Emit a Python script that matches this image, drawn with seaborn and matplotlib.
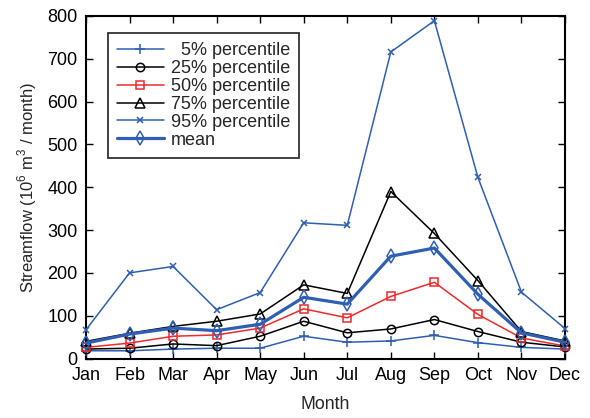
import matplotlib
matplotlib.use("Agg")
import matplotlib.pyplot as plt
import seaborn as sns
import pandas as pd

months = ["Jan", "Feb", "Mar", "Apr", "May", "Jun",
          "Jul", "Aug", "Sep", "Oct", "Nov", "Dec"]

p05 = [18, 18, 22, 24, 24, 52, 38, 41, 54, 37, 26, 22]
p25 = [22, 24, 34, 30, 52, 87, 60, 69, 91, 63, 38, 27]
p50 = [26, 36, 52, 55, 71, 116, 95, 145, 178, 103, 48, 29]
p75 = [40, 59, 75, 87, 104, 172, 152, 390, 292, 182, 63, 41]
p95 = [67, 200, 215, 114, 154, 317, 311, 716, 789, 423, 155, 70]
mean_flow = [36, 57, 71, 65, 80, 143, 127, 239, 258, 150, 60, 38]

series_labels = ["  5% percentile", "25% percentile", "50% percentile",
                 "75% percentile", "95% percentile", "mean"]
series_values = [p05, p25, p50, p75, p95, mean_flow]

blue = "#2f5fb3"
red = "#ee2a2a"
styles = {
    "  5% percentile": dict(color=blue, marker="+", ms=7, lw=1.1),
    "25% percentile": dict(color="black", marker="o", ms=6, lw=1.1),
    "50% percentile": dict(color=red, marker="s", ms=6, lw=1.1),
    "75% percentile": dict(color="black", marker="^", ms=7, lw=1.1),
    "95% percentile": dict(color=blue, marker="x", ms=5, lw=1.1),
    "mean": dict(color=blue, marker="d", ms=7, lw=2.3),
}

rows = []
for lab, vals in zip(series_labels, series_values):
    for i, v in enumerate(vals):
        rows.append({"series": lab, "month": i, "flow": v})
df = pd.DataFrame(rows)

sns.set_theme(style="ticks")
plt.rcParams["font.family"] = ["Liberation Sans", "DejaVu Sans"]
plt.rcParams["mathtext.fontset"] = "custom"
plt.rcParams["mathtext.rm"] = "Liberation Sans"

fig = plt.figure(figsize=(5.9, 4.18), dpi=100)
ax = fig.add_axes([86 / 590, 1 - 358.5 / 418, (565 - 86) / 590, (358.5 - 16) / 418])

for lab in series_labels:
    st = styles[lab]
    sub = df[df["series"] == lab]
    sns.lineplot(data=sub, x="month", y="flow", ax=ax, label=lab,
                 color=st["color"], marker=st["marker"], markersize=st["ms"],
                 linewidth=st["lw"], markerfacecolor="none",
                 markeredgecolor=st["color"], markeredgewidth=1.1,
                 clip_on=False, zorder=3)

ax.set_xlim(0, 11)
ax.set_ylim(0, 800)
ax.set_xticks(range(12))
ax.set_xticklabels(months)
ax.set_yticks(range(0, 801, 100))
ax.tick_params(axis="both", which="both", direction="in", top=True, right=True,
               labelsize=13, length=5, width=1, pad=6, colors="black")
for sp in ax.spines.values():
    sp.set_visible(True)
    sp.set_linewidth(1.5)
    sp.set_color("black")

ax.set_xlabel("Month", fontsize=12.7, labelpad=9)
ax.set_ylabel("Streamflow (10$^6$ m$^3$ / month)", fontsize=12, labelpad=6)

leg = ax.legend(loc="upper left", bbox_to_anchor=(0.045, 0.95), fontsize=13,
                frameon=True, fancybox=False, edgecolor="black",
                handlelength=2.6, handletextpad=0.4, labelspacing=0.05,
                borderpad=0.5, borderaxespad=0)
leg.get_frame().set_linewidth(1.3)

fig.savefig("out.png", dpi=100)
